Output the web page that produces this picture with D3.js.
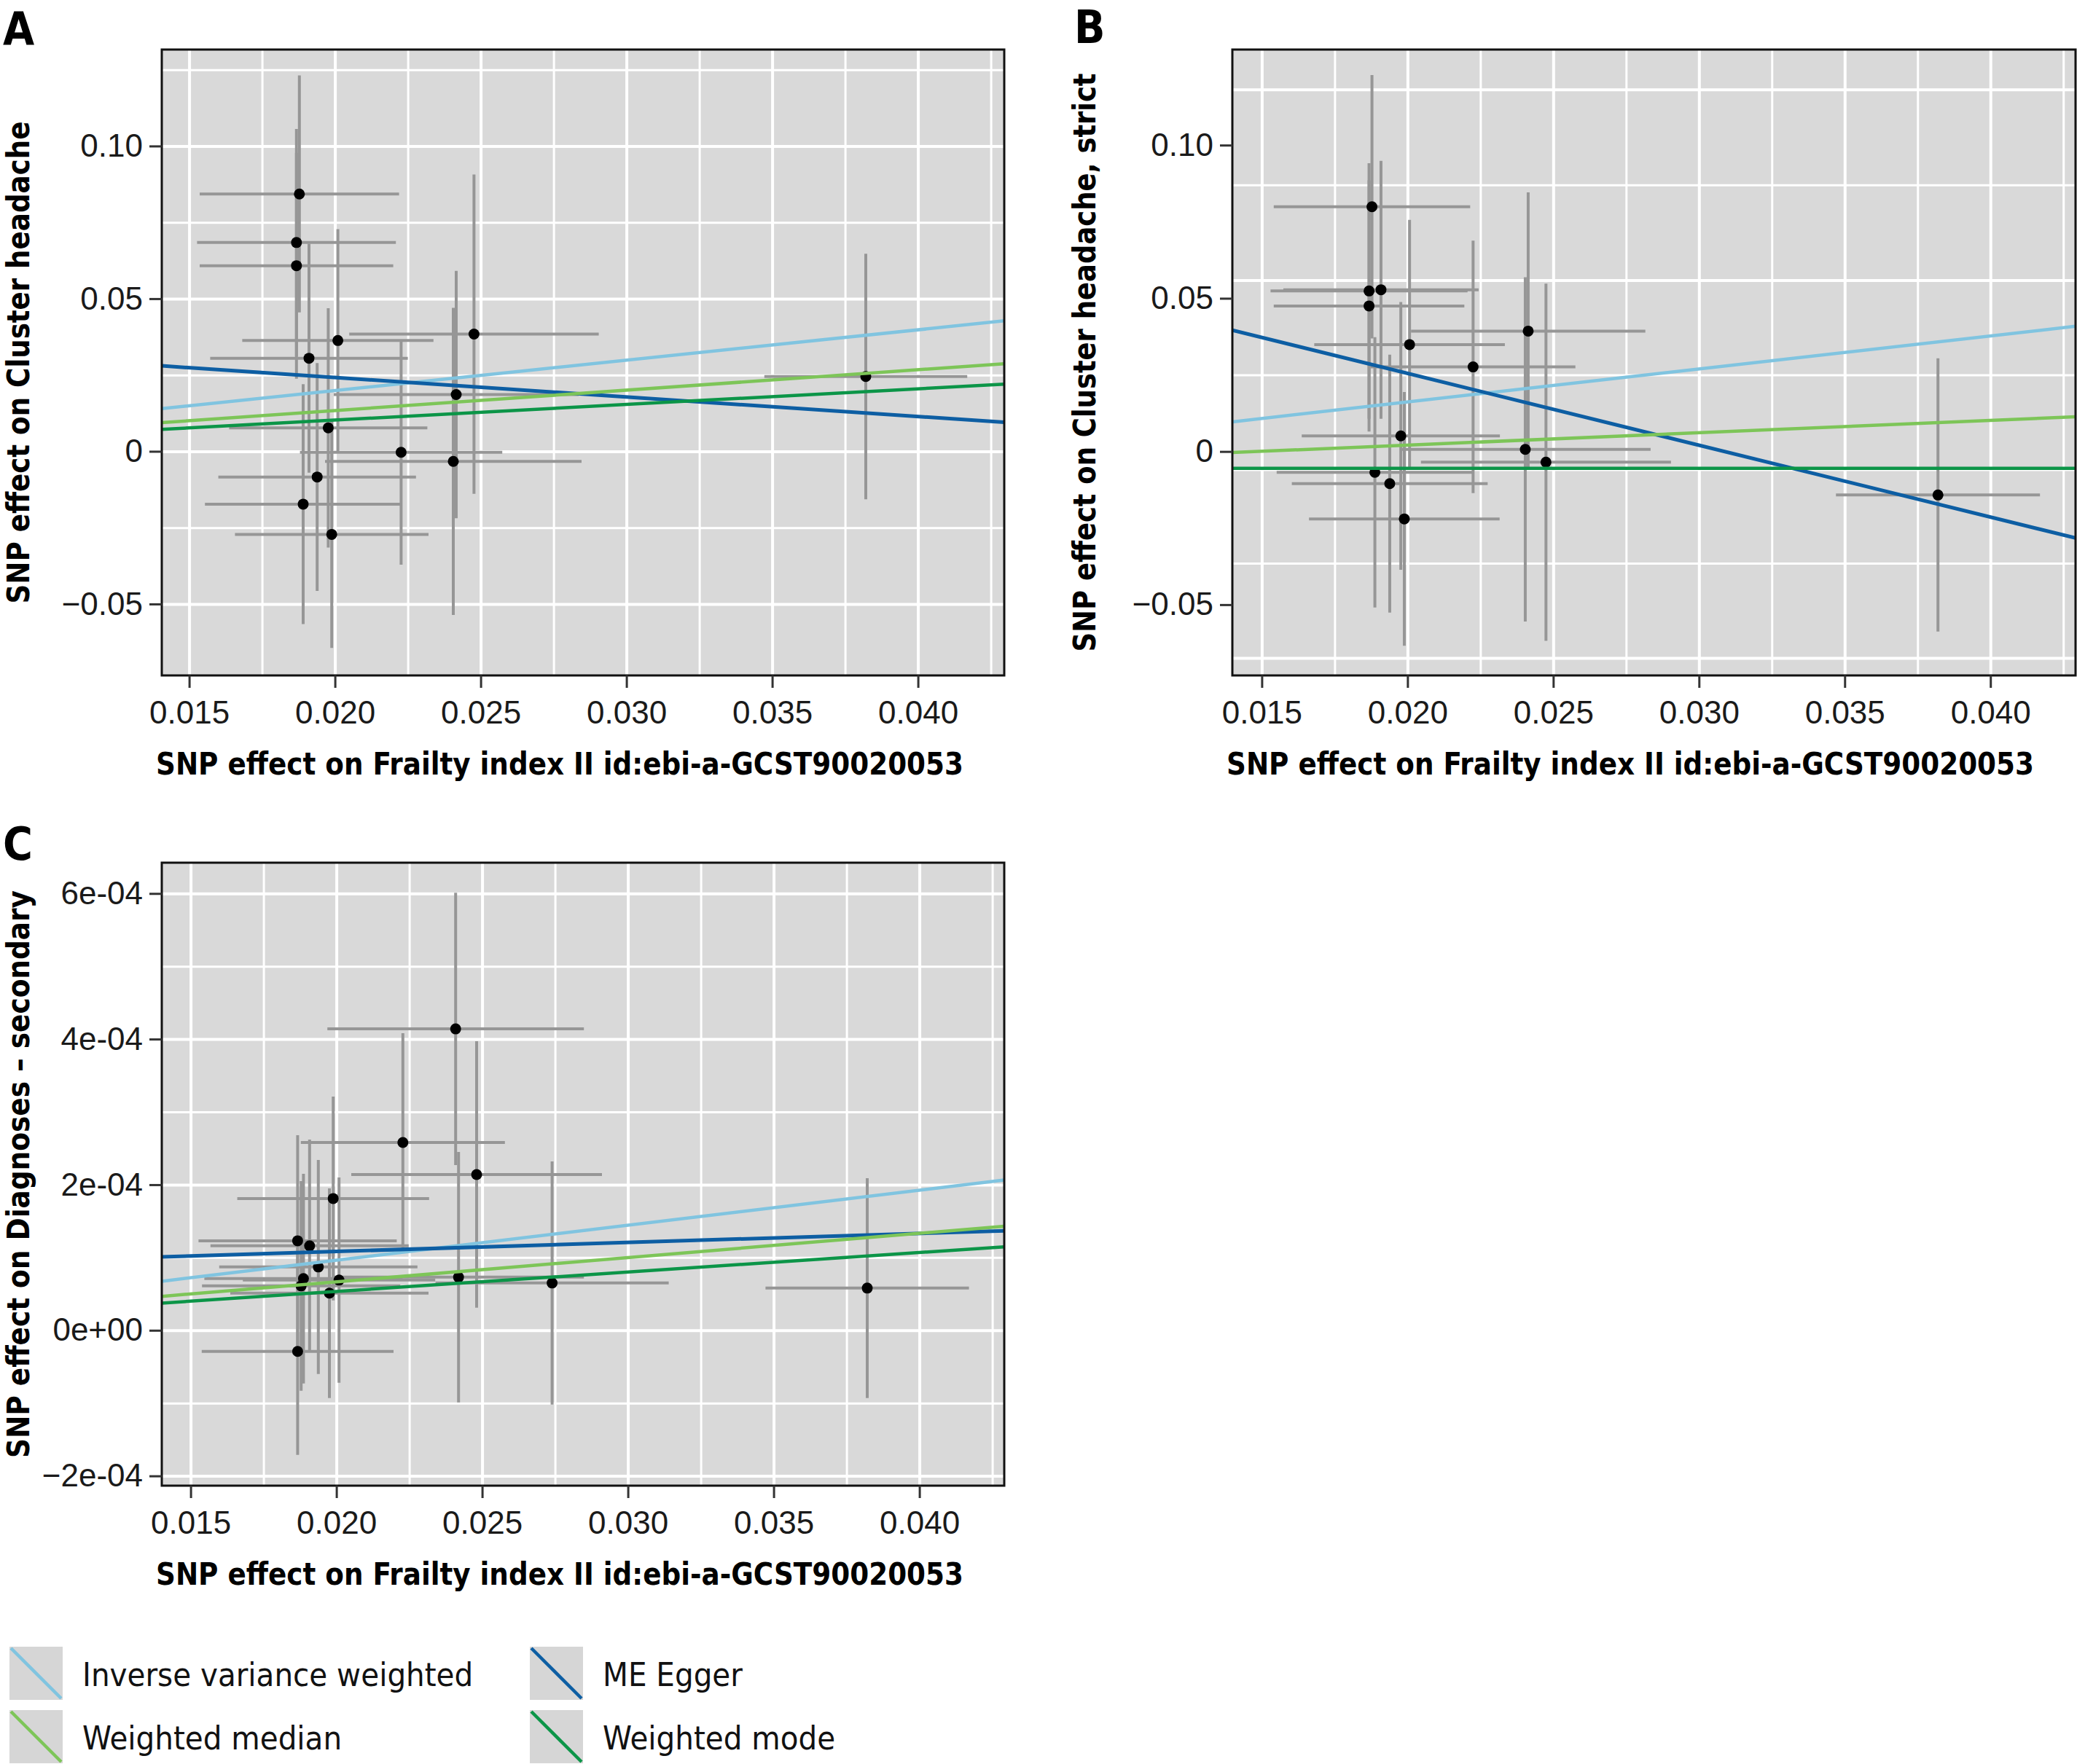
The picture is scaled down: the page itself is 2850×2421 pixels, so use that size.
<!DOCTYPE html>
<html>
<head>
<meta charset="utf-8">
<script src="https://cdn.jsdelivr.net/npm/d3@7"></script>
<style>
  body { margin: 0; background: #fff; }
  svg { display: block; }
</style>
</head>
<body>
<svg id="chart" width="2850" height="2421"></svg>
<script>
// SNP effects on the exposure (Frailty index II), shared x values per panel
const exposureA = [0.01878, 0.01868, 0.01868, 0.02010, 0.01911, 0.02477, 0.02416, 0.01977, 0.02227, 0.02406, 0.01939, 0.01891, 0.01989, 0.03821];
const exposureSeA = [0.00342, 0.00341, 0.00332, 0.00328, 0.00339, 0.00428, 0.00420, 0.00340, 0.00347, 0.00440, 0.00339, 0.00337, 0.00332, 0.00348];
const outcomeA = [0.0843, 0.0684, 0.0608, 0.0363, 0.0305, 0.0384, 0.0186, 0.0077, -0.0003, -0.0033, -0.0084, -0.0173, -0.0272, 0.0245];
const outcomeSeA = [0.0388, 0.0372, 0.0370, 0.0365, 0.0375, 0.0523, 0.0405, 0.0392, 0.0368, 0.0503, 0.0373, 0.0393, 0.0372, 0.0402];

const exposureB = [0.01878, 0.01868, 0.01909, 0.01868, 0.02007, 0.02414, 0.02225, 0.01977, 0.02404, 0.02475, 0.01888, 0.01939, 0.01989, 0.03820];
const exposureSeB = [0.00337, 0.00338, 0.00335, 0.00327, 0.00327, 0.00402, 0.00351, 0.00340, 0.00430, 0.00429, 0.00337, 0.00336, 0.00327, 0.00350];
const outcomeB = [0.0799, 0.0524, 0.0528, 0.0475, 0.0349, 0.0393, 0.0276, 0.0051, 0.0007, -0.0035, -0.0068, -0.0105, -0.0220, -0.0142];
const outcomeSeB = [0.0430, 0.0417, 0.0421, 0.0410, 0.0407, 0.0453, 0.0412, 0.0437, 0.0562, 0.0583, 0.0441, 0.0421, 0.0414, 0.0446];

const exposureC = [0.02409, 0.02228, 0.02481, 0.01989, 0.01867, 0.01908, 0.01938, 0.01887, 0.01879, 0.02009, 0.01976, 0.01867, 0.02419, 0.02740, 0.03821];
const exposureSeC = [0.00440, 0.00350, 0.00430, 0.00329, 0.00340, 0.00340, 0.00340, 0.00340, 0.00340, 0.00330, 0.00340, 0.00329, 0.00430, 0.00400, 0.00349];
const outcomeC = [4.14e-4, 2.58e-4, 2.14e-4, 1.81e-4, 1.23e-4, 1.16e-4, 0.87e-4, 0.71e-4, 0.61e-4, 0.69e-4, 0.51e-4, -0.29e-4, 0.73e-4, 0.65e-4, 0.58e-4];
const outcomeSeC = [1.87e-4, 1.50e-4, 1.83e-4, 1.40e-4, 1.45e-4, 1.46e-4, 1.47e-4, 1.44e-4, 1.44e-4, 1.41e-4, 1.44e-4, 1.42e-4, 1.72e-4, 1.67e-4, 1.51e-4];

// MR estimates, in method order
const methods = ['Inverse variance weighted', 'ME Egger', 'Weighted median', 'Weighted mode'];
const methodColors = ['#80c4e0', '#0d5ea3', '#7dc558', '#0c9548'];
const slopesA = [0.995, -0.640, 0.668, 0.512];
const interceptsA = [0, 0.0370, 0, 0];
const slopesB = [1.078, -2.345, 0.404, 0];
const interceptsB = [-0.0054, 0.0724, -0.0060, -0.0055];
const slopesC = [0.00481, 0.00124, 0.00333, 0.00267];
const interceptsC = [0, 0.835e-4, 0, 0];

// axes
const xTicks = [0.015, 0.020, 0.025, 0.030, 0.035, 0.040];
const xLabels = ['0.015', '0.020', '0.025', '0.030', '0.035', '0.040'];
const xMinor = [0.0175, 0.0225, 0.0275, 0.0325, 0.0375, 0.0425];
const yTicksAB = [-0.05, 0, 0.05, 0.10];
const yLabelsAB = ['\u22120.05', '0', '0.05', '0.10'];
const yMinorA = [-0.025, 0.025, 0.075, 0.125];
const yGridMajorB = [-0.0674, -0.0058, 0.0559, 0.1182];
const yGridMinorB = [-0.0365, 0.0250, 0.0870];
const yTicksC = [-2e-4, 0, 2e-4, 4e-4, 6e-4];
const yLabelsC = ['\u22122e-04', '0e+00', '2e-04', '4e-04', '6e-04'];
const yMinorC = [-1e-4, 1e-4, 3e-4, 5e-4];

const xTitle = 'SNP effect on Frailty index II id:ebi-a-GCST90020053';

const tickFont = "'Liberation Sans', Arial, sans-serif";
const titleFont = "'Liberation Sans Narrow', 'DejaVu Sans Condensed', 'Liberation Sans', sans-serif";

let svg = d3.select('#chart');

let panels = [
    {
        letter: 'A', letterX: 4, letterY: 61,
        left: 222, top: 68, width: 1156, height: 859,
        xDomain: [0.01406, 0.04296], yDomain: [-0.0734, 0.1316],
        yTicks: yTicksAB, yLabels: yLabelsAB, yGridMajor: yTicksAB, yGridMinor: yMinorA,
        yTitle: 'SNP effect on Cluster headache', yTitleX: 40, yTitleLength: 662,
        bx: exposureA, bxSe: exposureSeA, by: outcomeA, bySe: outcomeSeA,
        slopes: slopesA, intercepts: interceptsA
    },
    {
        letter: 'B', letterX: 1474, letterY: 59,
        left: 1691, top: 68, width: 1157, height: 859,
        xDomain: [0.01399, 0.04292], yDomain: [-0.0731, 0.1312],
        yTicks: yTicksAB, yLabels: yLabelsAB, yGridMajor: yGridMajorB, yGridMinor: yGridMinorB,
        yTitle: 'SNP effect on Cluster headache, strict', yTitleX: 1503, yTitleLength: 794,
        bx: exposureB, bxSe: exposureSeB, by: outcomeB, bySe: outcomeSeB,
        slopes: slopesB, intercepts: interceptsB
    },
    {
        letter: 'C', letterX: 4, letterY: 1180,
        left: 222, top: 1184, width: 1156, height: 855,
        xDomain: [0.01401, 0.04291], yDomain: [-2.134e-4, 6.423e-4],
        yTicks: yTicksC, yLabels: yLabelsC, yGridMajor: yTicksC, yGridMinor: yMinorC,
        yTitle: 'SNP effect on Diagnoses \u2013 secondary', yTitleX: 40, yTitleLength: 779,
        bx: exposureC, bxSe: exposureSeC, by: outcomeC, bySe: outcomeSeC,
        slopes: slopesC, intercepts: interceptsC
    }
];

function styleAxis(sel, size) {
    sel.attr('font-size', null).attr('font-family', null);
    sel.select('.domain').remove();
    sel.selectAll('line').attr('stroke', '#333').attr('stroke-width', 3);
    sel.selectAll('text')
        .attr('font-family', tickFont)
        .attr('font-size', size)
        .attr('fill', '#1a1a1a');
}

function gridLines(g, axis, width) {
    g.call(axis.tickFormat(''));
    g.select('.domain').remove();
    g.selectAll('line').attr('stroke', '#fff').attr('stroke-width', width);
}

function drawPanel(p, i) {
    let x = d3.scaleLinear().domain(p.xDomain).range([0, p.width]);
    let y = d3.scaleLinear().domain(p.yDomain).range([p.height, 0]);
    let g = svg.append('g').attr('transform', `translate(${p.left},${p.top})`);

    g.append('rect')
        .attr('width', p.width)
        .attr('height', p.height)
        .attr('fill', '#d9d9d9');

    // grid, minor first
    gridLines(g.append('g'), d3.axisBottom(x).tickValues(xMinor).tickSize(p.height), 3);
    gridLines(g.append('g'), d3.axisRight(y).tickValues(p.yGridMinor).tickSize(p.width), 3);
    gridLines(g.append('g'), d3.axisBottom(x).tickValues(xTicks).tickSize(p.height), 4);
    gridLines(g.append('g'), d3.axisRight(y).tickValues(p.yGridMajor).tickSize(p.width), 4);

    let clipId = 'clip' + i;
    g.append('clipPath').attr('id', clipId)
        .append('rect').attr('width', p.width).attr('height', p.height);

    let plot = g.append('g').attr('clip-path', `url(#${clipId})`);
    let idx = d3.range(p.bx.length);

    plot.append('g').selectAll('line')
        .data(idx)
        .enter().append('line')
        .attr('x1', d => x(p.bx[d]))
        .attr('x2', d => x(p.bx[d]))
        .attr('y1', d => y(p.by[d] - p.bySe[d]))
        .attr('y2', d => y(p.by[d] + p.bySe[d]))
        .attr('stroke', '#969696')
        .attr('stroke-width', 4);

    plot.append('g').selectAll('line')
        .data(idx)
        .enter().append('line')
        .attr('x1', d => x(p.bx[d] - p.bxSe[d]))
        .attr('x2', d => x(p.bx[d] + p.bxSe[d]))
        .attr('y1', d => y(p.by[d]))
        .attr('y2', d => y(p.by[d]))
        .attr('stroke', '#969696')
        .attr('stroke-width', 4);

    plot.append('g').selectAll('circle')
        .data(idx)
        .enter().append('circle')
        .attr('cx', d => x(p.bx[d]))
        .attr('cy', d => y(p.by[d]))
        .attr('r', 7.5)
        .attr('fill', '#000');

    let line = d3.line().x(d => x(d[0])).y(d => y(d[1]));
    plot.append('g').selectAll('path')
        .data(methods.map((m, k) => k))
        .enter().append('path')
        .attr('d', k => line(p.xDomain.map(v => [v, p.intercepts[k] + p.slopes[k] * v])))
        .attr('fill', 'none')
        .attr('stroke', k => methodColors[k])
        .attr('stroke-width', k => k === 1 ? 5 : 4.5);

    g.append('rect')
        .attr('width', p.width)
        .attr('height', p.height)
        .attr('fill', 'none')
        .attr('stroke', '#111')
        .attr('stroke-width', 3);

    g.append('g')
        .call(d3.axisLeft(y).tickValues(p.yTicks).tickFormat((d, k) => p.yLabels[k]).tickSize(17).tickPadding(9))
        .call(styleAxis, 44);

    g.append('g')
        .attr('transform', `translate(0,${p.height})`)
        .call(d3.axisBottom(x).tickValues(xTicks).tickFormat((d, k) => xLabels[k]).tickSize(17).tickPadding(18))
        .call(styleAxis, 44);

    g.append('text')
        .text(xTitle)
        .attr('x', 546)
        .attr('y', p.height + 136)
        .attr('text-anchor', 'middle')
        .attr('textLength', 1108)
        .attr('lengthAdjust', 'spacingAndGlyphs')
        .attr('font-family', titleFont)
        .attr('font-weight', 'bold')
        .attr('font-size', 42);

    svg.append('text')
        .text(p.yTitle)
        .attr('transform', `translate(${p.yTitleX},${p.top + p.height / 2}) rotate(-90)`)
        .attr('text-anchor', 'middle')
        .attr('textLength', p.yTitleLength)
        .attr('lengthAdjust', 'spacingAndGlyphs')
        .attr('font-family', titleFont)
        .attr('font-weight', 'bold')
        .attr('font-size', 42);

    svg.append('text')
        .text(p.letter)
        .attr('x', p.letterX)
        .attr('y', p.letterY)
        .attr('font-family', titleFont)
        .attr('font-weight', 'bold')
        .attr('font-size', 62);
}

panels.forEach(drawPanel);

// legend, two columns filled row by row
let legendCols = [13, 727];
let legendRows = [2260, 2347];
let keySize = 73;

let legend = svg.append('g').selectAll('g')
    .data(methods)
    .enter().append('g')
    .attr('transform', (d, k) => `translate(${legendCols[k % 2]},${legendRows[Math.floor(k / 2)]})`);

legend.append('rect')
    .attr('width', keySize)
    .attr('height', keySize)
    .attr('fill', '#d6d6d6');

legend.append('line')
    .attr('x1', 2).attr('y1', 2)
    .attr('x2', keySize - 2).attr('y2', keySize - 2)
    .attr('stroke', (d, k) => methodColors[k])
    .attr('stroke-width', 4.5);

legend.append('text')
    .text(d => d)
    .attr('x', 100)
    .attr('y', 54)
    .attr('font-family', titleFont)
    .attr('font-size', 45)
    .attr('fill', '#111');
</script>
</body>
</html>
